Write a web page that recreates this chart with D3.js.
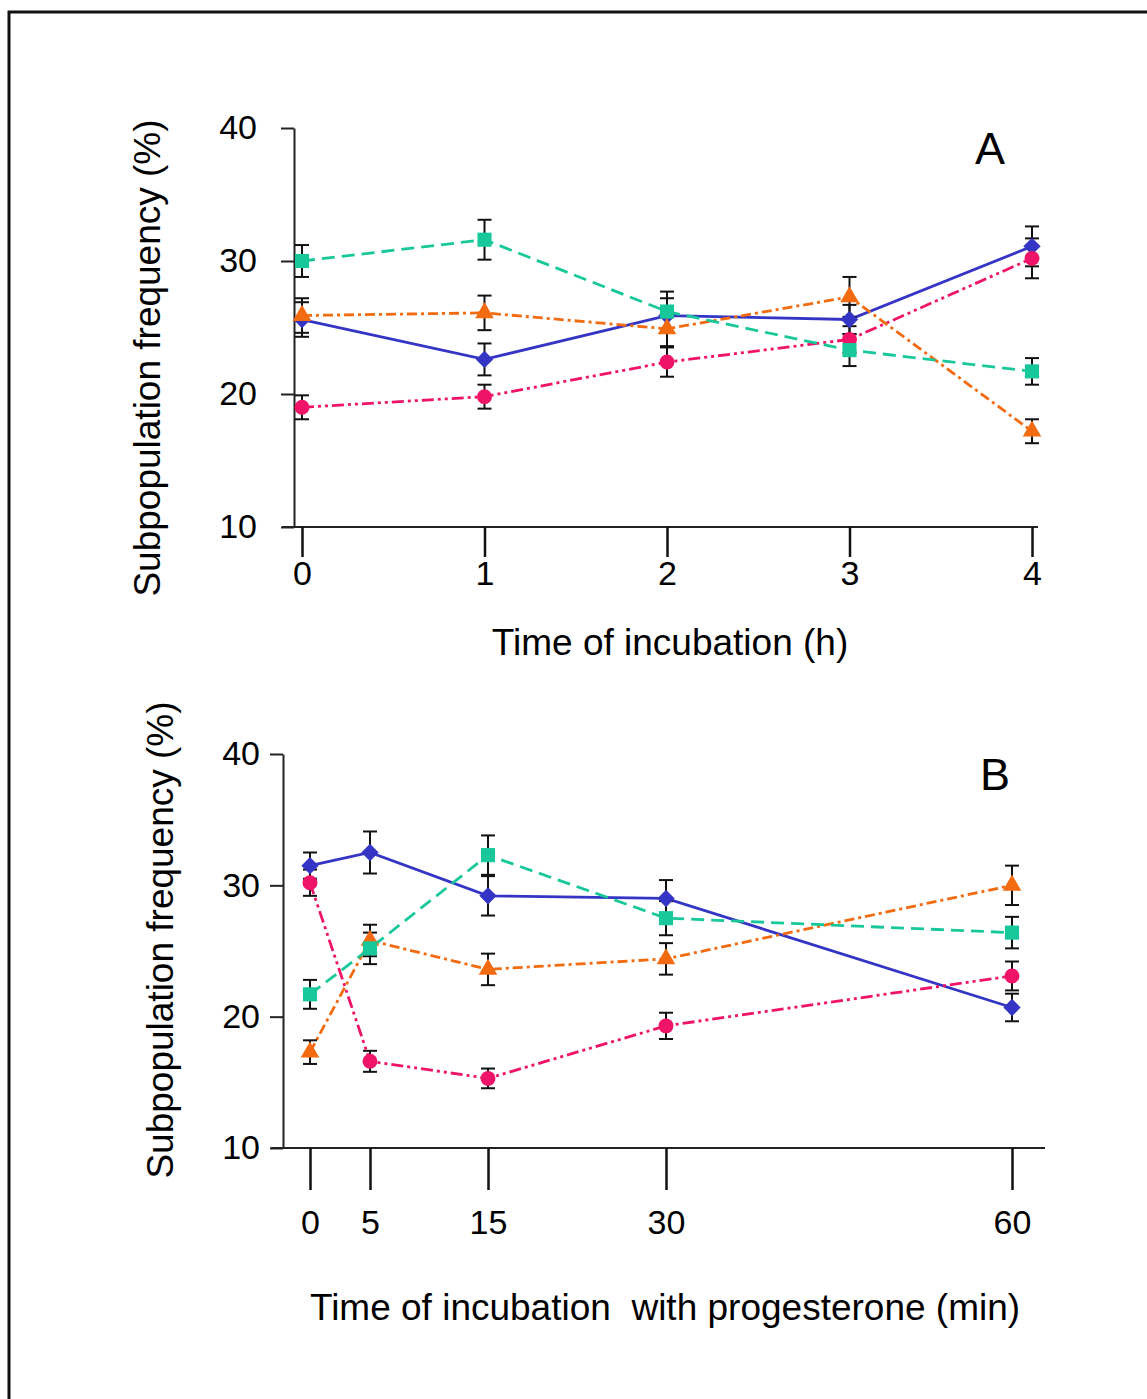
<!DOCTYPE html>
<html>
<head>
<meta charset="utf-8">
<script src="https://cdn.jsdelivr.net/npm/d3@7"></script>
<style>
  body { margin: 0; background: #fff; }
  text { font-family: "Liberation Sans", Arial, sans-serif; fill: #000; }
</style>
</head>
<body>
<script>
// ---- data ----
var hoursA = [0, 1, 2, 3, 4];
var minutesB = [0, 5, 15, 30, 60];
var yTicks = [10, 20, 30, 40];

var blueA   = [25.6, 22.6, 25.9, 25.6, 31.1];
var blueAErr = [1.3, 1.2, 1.3, 1.1, 1.5];
var tealA   = [30.0, 31.6, 26.2, 23.3, 21.7];
var tealAErr = [1.2, 1.5, 1.5, 1.2, 1.0];
var orangeA = [25.9, 26.1, 24.9, 27.3, 17.2];
var orangeAErr = [1.3, 1.3, 1.3, 1.5, 0.9];
var pinkA   = [19.0, 19.8, 22.4, 24.1, 30.2];
var pinkAErr = [0.9, 0.9, 1.1, 1.0, 1.5];

var blueB   = [31.5, 32.5, 29.2, 29.0, 20.7];
var blueBErr = [1.0, 1.6, 1.5, 1.4, 1.05];
var tealB   = [21.7, 25.2, 32.3, 27.5, 26.4];
var tealBErr = [1.1, 1.2, 1.5, 1.3, 1.2];
var orangeB = [17.3, 25.8, 23.6, 24.4, 30.0];
var orangeBErr = [0.9, 1.2, 1.2, 1.2, 1.5];
var pinkB   = [30.2, 16.6, 15.3, 19.3, 23.1];
var pinkBErr = [1.0, 0.8, 0.75, 1.0, 1.1];

// ---- styles ----
var styles = {
  blue:   { color: "#3535c5", dash: null,                 symbol: "diamond" },
  pink:   { color: "#f01468", dash: "12,4,3,4,3,4",       symbol: "circle" },
  orange: { color: "#f36b10", dash: "10,4,3,4",           symbol: "triangle" },
  teal:   { color: "#19c89a", dash: "13,7",               symbol: "square" }
};

var svg = d3.select("body").append("svg")
    .attr("width", 1147)
    .attr("height", 1399);

// outer frame (runs off the right and bottom edge)
svg.append("rect")
    .attr("x", 9).attr("y", 12)
    .attr("width", 1300).attr("height", 1500)
    .attr("fill", "none").attr("stroke", "#111").attr("stroke-width", 3);

function makeSeries(xs, lists) {
  return lists.map(function(l) {
    return {
      name: l[0],
      pts: xs.map(function(x, i) { return { x: x, y: l[1][i], e: l[2][i] }; })
    };
  });
}

function drawPanel(cfg) {
  var g = svg.append("g");
  var x = cfg.x, y = cfg.y;
  var axisX = cfg.axisX;

  // y axis
  var yAxis = g.append("g")
      .attr("transform", "translate(" + axisX + ",0)")
      .call(d3.axisLeft(y).tickValues(yTicks).tickSize(13).tickSizeOuter(0).tickPadding(cfg.yPad));
  yAxis.select(".domain").attr("stroke", "#222").attr("stroke-width", 2);
  yAxis.selectAll(".tick line").attr("stroke", "#222").attr("stroke-width", 2);
  yAxis.selectAll(".tick text")
      .style("font-size", "34px")
      .style("font-family", "'Liberation Sans', Arial, sans-serif")
      .attr("fill", "#000");

  // x axis baseline + downward ticks
  g.append("line")
      .attr("x1", axisX - 12).attr("x2", cfg.xEnd)
      .attr("y1", y(10)).attr("y2", y(10))
      .attr("stroke", "#222").attr("stroke-width", 2);
  var xAxis = g.append("g")
      .attr("transform", "translate(0," + y(10) + ")")
      .call(d3.axisBottom(cfg.xTickScale).tickValues(cfg.xs).tickFormat(d3.format("d"))
        .tickSize(cfg.xTickLen).tickPadding(cfg.xPad));
  xAxis.select(".domain").remove();
  xAxis.selectAll(".tick line").attr("stroke", "#111").attr("stroke-width", 2.5);
  xAxis.selectAll(".tick text")
      .style("font-size", "34px")
      .style("font-family", "'Liberation Sans', Arial, sans-serif")
      .attr("fill", "#000");

  var series = cfg.series;

  // lines
  var line = d3.line().x(function(d) { return x(d.x); }).y(function(d) { return y(d.y); });
  series.forEach(function(s) {
    var st = styles[s.name];
    g.append("path")
        .datum(s.pts)
        .attr("d", line)
        .attr("fill", "none")
        .attr("stroke", st.color)
        .attr("stroke-width", 2.8)
        .attr("stroke-dasharray", st.dash);
  });

  // error bars
  series.forEach(function(s) {
    var eb = g.append("g").selectAll("g").data(s.pts).enter().append("g")
        .attr("stroke", "#111").attr("stroke-width", 2);
    eb.append("line")
        .attr("x1", function(d) { return x(d.x); }).attr("x2", function(d) { return x(d.x); })
        .attr("y1", function(d) { return y(d.y - d.e); }).attr("y2", function(d) { return y(d.y + d.e); });
    [-1, 1].forEach(function(sg) {
      eb.append("line")
          .attr("x1", function(d) { return x(d.x) - 7; }).attr("x2", function(d) { return x(d.x) + 7; })
          .attr("y1", function(d) { return y(d.y + sg * d.e); }).attr("y2", function(d) { return y(d.y + sg * d.e); });
    });
  });

  // markers
  series.forEach(function(s) {
    var st = styles[s.name];
    var sym, size, rot = 0;
    if (st.symbol === "diamond") { sym = d3.symbolSquare; size = 150; rot = 45; }
    else if (st.symbol === "square") { sym = d3.symbolSquare; size = 200; }
    else if (st.symbol === "triangle") { sym = d3.symbolTriangle; size = 150; }
    else { sym = d3.symbolCircle; size = 175; }
    g.append("g").selectAll("path").data(s.pts).enter().append("path")
        .attr("d", d3.symbol().type(sym).size(size))
        .attr("transform", function(d) { return "translate(" + x(d.x) + "," + y(d.y) + ") rotate(" + rot + ")"; })
        .attr("fill", st.color);
  });

  // titles
  g.append("text")
      .attr("transform", "translate(" + cfg.yTitleX + "," + cfg.yTitleY + ") rotate(-90)")
      .attr("text-anchor", "middle")
      .style("font-size", "37px")
      .text("Subpopulation frequency (%)");
  g.append("text")
      .attr("x", cfg.xTitleX).attr("y", cfg.xTitleY)
      .attr("text-anchor", "middle")
      .style("font-size", "37px")
      .style("white-space", "pre")
      .attr("xml:space", "preserve")
      .text(cfg.xTitle);
  g.append("text")
      .attr("x", cfg.letterX).attr("y", cfg.letterY)
      .attr("text-anchor", "middle")
      .style("font-size", "45px")
      .text(cfg.letter);
}

// ---- panel A ----
var xA = d3.scaleLinear().domain([0, 4]).range([302, 1032]);
var yA = d3.scaleLinear().domain([10, 40]).range([527, 128]);
drawPanel({
  x: xA, y: yA, xTickScale: xA, xs: hoursA,
  axisX: 294, xEnd: 1038, xTickLen: 30, xPad: 4, yPad: 24,
  series: makeSeries(hoursA, [
    ["blue", blueA, blueAErr],
    ["pink", pinkA, pinkAErr],
    ["orange", orangeA, orangeAErr],
    ["teal", tealA, tealAErr]
  ]),
  yTitleX: 160, yTitleY: 358,
  xTitle: "Time of incubation (h)", xTitleX: 670, xTitleY: 655,
  letter: "A", letterX: 990, letterY: 164
});

// ---- panel B ----
var xB = d3.scaleLinear().domain(minutesB).range([310, 370, 488, 666, 1012]);
var yB = d3.scaleLinear().domain([10, 40]).range([1148, 754]);
drawPanel({
  x: xB, y: yB, xTickScale: xB, xs: minutesB,
  axisX: 283, xEnd: 1045, xTickLen: 42, xPad: 20, yPad: 10,
  series: makeSeries(minutesB, [
    ["blue", blueB, blueBErr],
    ["pink", pinkB, pinkBErr],
    ["orange", orangeB, orangeBErr],
    ["teal", tealB, tealBErr]
  ]),
  yTitleX: 173, yTitleY: 940,
  xTitle: "Time of incubation  with progesterone (min)", xTitleX: 665, xTitleY: 1320,
  letter: "B", letterX: 995, letterY: 790
});
</script>
</body>
</html>
